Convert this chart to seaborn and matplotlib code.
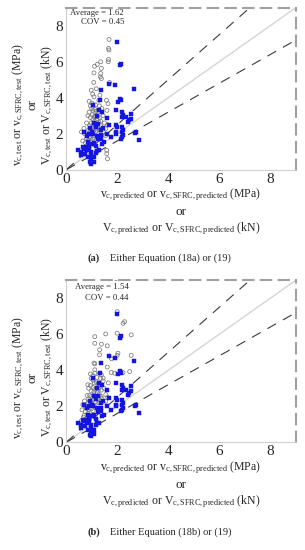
import numpy as np
import pandas as pd
import matplotlib
matplotlib.use("Agg")
import matplotlib.pyplot as plt
import seaborn as sns

# ---------------- data ----------------
gray_a_x = [1.70, 1.68, 1.66, 1.68, 1.66, 1.65, 1.35, 1.22, 1.11, 1.38, 1.09, 1.35, 1.34, 1.38,
            1.08, 1.70, 0.98, 1.32, 1.28, 1.09, 1.58, 1.64, 1.18, 1.04,
            0.95, 1.00, 1.05, 1.12, 1.18, 1.25, 0.90, 1.02, 1.10, 1.15, 1.22, 1.30, 0.95, 1.05,
            1.12, 1.20, 1.28, 1.35, 0.98, 1.08, 1.15, 1.22, 0.92, 1.00, 1.10, 1.25, 0.88, 0.95,
            1.05, 1.15, 0.85, 0.92, 1.02, 1.10, 0.80, 0.88, 0.98, 1.05, 0.75, 0.85, 0.95, 1.55,
            1.62, 1.45, 1.50, 1.60, 0.80, 0.85, 0.70, 1.59, 1.59, 1.62, 1.55, 0.65, 0.70, 0.78,
            1.35, 1.40, 1.30, 1.15, 1.00, 0.90, 1.20, 1.30, 0.60, 0.72, 1.45, 1.40]
gray_a_y = [9.10, 7.24, 6.74, 6.65, 6.13, 6.00, 6.00, 5.85, 5.75, 5.63, 5.38, 5.35, 5.16, 5.07,
            4.85, 4.85, 4.42, 4.14, 3.86, 4.05, 3.86, 3.67, 4.50, 4.20,
            3.55, 3.40, 3.30, 3.35, 3.25, 3.20, 3.20, 3.05, 2.95, 3.00, 2.95, 2.90, 2.90, 2.80,
            2.70, 2.75, 2.65, 2.70, 2.60, 2.55, 2.50, 2.45, 2.45, 2.35, 2.30, 2.35, 2.20, 2.10,
            2.15, 2.10, 1.95, 1.85, 1.90, 1.80, 1.75, 1.65, 1.60, 1.70, 1.50, 1.40, 1.35, 2.28,
            2.50, 3.00, 2.60, 3.30, 2.60, 3.00, 2.30, 1.08, 0.89, 0.61, 1.90, 1.60, 1.20, 1.05,
            2.45, 3.40, 3.55, 3.60, 3.70, 3.80, 2.20, 2.20, 2.10, 2.00, 2.10, 1.90]

gray_b_x = [1.96, 2.00, 2.29, 2.23, 2.00, 1.55, 2.55, 1.12, 1.38, 1.61, 1.12, 1.31, 1.31, 2.03,
            2.00, 2.55, 1.77, 1.09, 1.12, 1.61, 1.77, 1.90, 2.23, 2.49, 1.31, 1.38, 1.45, 1.12,
            1.12, 0.85,
            0.98, 1.05, 1.10, 1.18, 1.25, 1.32, 0.95, 1.05, 1.12, 1.20, 1.28, 1.38, 0.98, 1.08,
            1.15, 1.22, 1.30, 0.92, 1.00, 1.10, 1.25, 1.35, 0.88, 0.95, 1.05, 1.15, 0.85, 0.92,
            1.02, 1.10, 0.80, 0.88, 0.98, 1.05, 0.75, 0.85, 0.95, 1.55, 1.62, 1.48, 1.55, 1.65,
            0.82, 0.88, 0.72, 0.62, 0.70, 0.78, 0.92, 1.40, 1.45, 1.35, 1.20, 1.05, 0.95, 1.25,
            1.32, 0.65, 0.75, 0.60, 0.68]
gray_b_y = [9.10, 7.26, 6.70, 6.61, 6.06, 6.02, 5.97, 5.87, 5.45, 5.36, 5.50, 5.14, 4.86, 4.95,
            4.83, 4.83, 4.64, 4.40, 4.36, 4.18, 3.88, 3.84, 3.88, 3.93, 3.84, 3.75, 3.57, 4.03,
            3.84, 3.20,
            3.55, 3.45, 3.30, 3.35, 3.25, 3.20, 3.15, 3.05, 2.95, 3.00, 2.95, 2.90, 2.85, 2.80,
            2.70, 2.75, 2.65, 2.60, 2.55, 2.50, 2.45, 2.55, 2.40, 2.30, 2.35, 2.25, 2.15, 2.05,
            2.10, 2.00, 1.90, 1.80, 1.85, 1.75, 1.70, 1.60, 1.50, 2.28, 2.50, 3.00, 2.65, 3.30,
            2.60, 3.00, 2.30, 1.80, 1.50, 1.30, 1.26, 2.45, 3.40, 3.55, 3.60, 3.70, 3.80, 2.20,
            2.20, 2.10, 2.00, 1.20, 1.40]

blue_x = [1.98, 2.13, 2.11, 1.69, 1.92, 2.64, 1.38, 2.11, 2.05, 1.32, 1.05, 1.95, 2.20, 2.22,
          2.20, 2.35, 2.42, 2.55, 2.13, 1.42, 1.60, 2.53, 2.47, 1.97, 2.01, 1.69, 1.46, 1.36,
          1.95, 1.95, 2.20, 2.22, 2.20, 2.22, 2.20, 2.16, 1.75, 1.60, 2.75, 2.68, 2.85,
          1.36, 1.30, 1.36, 1.49, 1.42, 0.84, 0.90, 1.03, 0.64, 0.71, 0.77, 0.81, 0.90, 0.57,
          0.68, 0.97, 0.99, 0.97, 0.97, 0.84, 1.10, 1.15, 1.20, 1.10, 1.08, 0.45, 0.59, 0.73,
          0.94, 1.07, 1.05, 1.00, 0.90, 0.80, 1.15, 1.20, 1.25, 0.95, 1.10, 1.25, 0.70, 1.20,
          1.28, 0.88, 1.30, 1.15]
blue_y = [7.11, 5.90, 5.81, 4.79, 4.70, 4.50, 4.42, 3.95, 3.77, 3.86, 3.58, 3.30, 3.20, 3.02,
          2.93, 2.93, 2.65, 3.12, 3.86, 3.21, 2.90, 2.84, 2.75, 2.46, 2.37, 2.47, 2.32, 2.19,
          2.10, 2.01, 2.37, 2.19, 2.10, 1.91, 1.82, 1.73, 1.82, 2.00, 2.10, 2.04, 1.63,
          1.91, 1.82, 1.73, 1.54, 1.45, 1.54, 1.45, 1.45, 1.26, 1.17, 1.26, 1.08, 1.17, 0.98,
          0.89, 0.98, 0.80, 0.61, 0.33, 0.70, 1.50, 1.30, 1.05, 0.70, 0.45, 1.07, 0.80, 0.90,
          0.43, 0.70, 2.00, 2.10, 2.00, 1.90, 2.40, 1.90, 1.70, 2.30, 2.60, 2.55, 2.10, 3.00,
          3.30, 1.35, 1.10, 0.95]

ticks = [0, 2, 4, 6, 8]
averages = ["Average = 1.62", "Average = 1.54"]
covs = ["COV = 0.45", "COV = 0.44"]
captions = ["Either Equation (18a) or (19)", "Either Equation (18b) or (19)"]
panel_tags = ["(a)", "(b)"]
ratio_lines = [1.25, 0.8]

# ---------------- style ----------------
sns.set_style("white")
plt.rcParams["font.family"] = ["Liberation Serif", "DejaVu Serif"]
plt.rcParams["mathtext.fontset"] = "custom"
plt.rcParams["mathtext.rm"] = "Liberation Serif"
plt.rcParams["mathtext.it"] = "Liberation Serif:italic"

W, H = 305, 550
fig = plt.figure(figsize=(W / 100, H / 100), dpi=100)

ylab1 = r"$\mathrm{v}_{\mathrm{c,test}}$ or $\mathrm{v}_{\mathrm{c,SFRC,test}}$ (MPa)"
ylab3 = r"$\mathrm{V}_{\mathrm{c,test}}$ or $\mathrm{V}_{\mathrm{c,SFRC,test}}$ (kN)"
xlab1 = r"$\mathrm{v}_{\mathrm{c,predicted}}$ or $\mathrm{v}_{\mathrm{c,SFRC,predicted}}$ (MPa)"
xlab3 = r"$\mathrm{V}_{\mathrm{c,predicted}}$ or $\mathrm{V}_{\mathrm{c,SFRC,predicted}}$ (kN)"

panels = [
    dict(top=7.75, gx=gray_a_x, gy=gray_a_y, avg_xy=(2.27, 8.72), cov_xy=(2.27, 8.22)),
    dict(top=280.3, gx=gray_b_x, gy=gray_b_y, avg_xy=(2.45, 8.62), cov_xy=(2.45, 8.02)),
]

left_px, right_px = 66.2, 295.7
ax_h_px = 162.0
LFS = 8.5

for i, p in enumerate(panels):
    top = p["top"]
    ax = fig.add_axes([left_px / W, 1 - (top + ax_h_px) / H,
                       (right_px - left_px) / W, ax_h_px / H])
    df = pd.concat([
        pd.DataFrame({"x": p["gx"], "y": p["gy"], "s": "RC"}),
        pd.DataFrame({"x": blue_x, "y": blue_y, "s": "SFRC"}),
    ])
    xs = np.array([0, 9.0])
    ax.plot(xs, xs, color="#d5d5d5", lw=1.0, zorder=1)
    for r in ratio_lines:
        xe = min(9.0, 9.0 / r)
        ax.plot([0, xe], [0, r * xe], color="#3a3a3a", lw=0.8,
                dashes=(9, 7), zorder=1)
    sns.scatterplot(data=df[df.s == "RC"], x="x", y="y", ax=ax, marker="o",
                    s=8, facecolor="none", edgecolor="#7a7a7a", linewidth=0.55,
                    legend=False, zorder=3)
    sns.scatterplot(data=df[df.s == "SFRC"], x="x", y="y", ax=ax, marker="s",
                    s=5, color="#1515e0", edgecolor="#1515e0", linewidth=0.3,
                    legend=False, zorder=4)
    ax.set_xlim(0, 9)
    ax.set_ylim(0, 9)
    ax.set_xticks(ticks)
    ax.set_yticks(ticks)
    ax.set_xlabel("")
    ax.set_ylabel("")
    ax.tick_params(axis="both", direction="in", length=3, width=0.6,
                   color="#c8c8c8", labelsize=11, pad=2)
    for s in ["left", "bottom"]:
        ax.spines[s].set_color("#cfcfcf")
        ax.spines[s].set_linewidth(0.8)
    for s in ["top", "right"]:
        ax.spines[s].set_color("#a0a0a0")
        ax.spines[s].set_linewidth(1.5)
        ax.spines[s].set_linestyle((0, (5, 3.5)))
    ax.text(*p["avg_xy"], averages[i], ha="right", va="center", fontsize=6.3)
    ax.text(*p["cov_xy"], covs[i], ha="right", va="center", fontsize=6.3)

    # y labels (three rotated lines)
    yc = 1 - (top + 97) / H
    fig.text(18 / W, yc, ylab1, rotation=90, ha="center", va="center", fontsize=LFS)
    fig.text(33 / W, yc, "or", rotation=90, ha="center", va="center", fontsize=9.5)
    fig.text(47 / W, yc, ylab3, rotation=90, ha="center", va="center", fontsize=LFS)

    # x labels (three lines)
    off = top - 7.75
    xc = (left_px + right_px) / 2 / W
    fig.text(xc, 1 - (195 + off) / H, xlab1, ha="center", va="center", fontsize=LFS)
    fig.text(xc, 1 - (212 + off) / H, "or", ha="center", va="center", fontsize=9.5)
    fig.text(xc, 1 - (229 + off) / H, xlab3, ha="center", va="center", fontsize=LFS)

    # caption
    cy = 1 - (258 + off * 1.005) / H
    fig.text(88 / W, cy, panel_tags[i], ha="left", va="center", fontsize=7.5,
             fontweight="bold")
    fig.text(110 / W, cy, captions[i], ha="left", va="center", fontsize=7.5)

fig.savefig("out.png", dpi=100)
